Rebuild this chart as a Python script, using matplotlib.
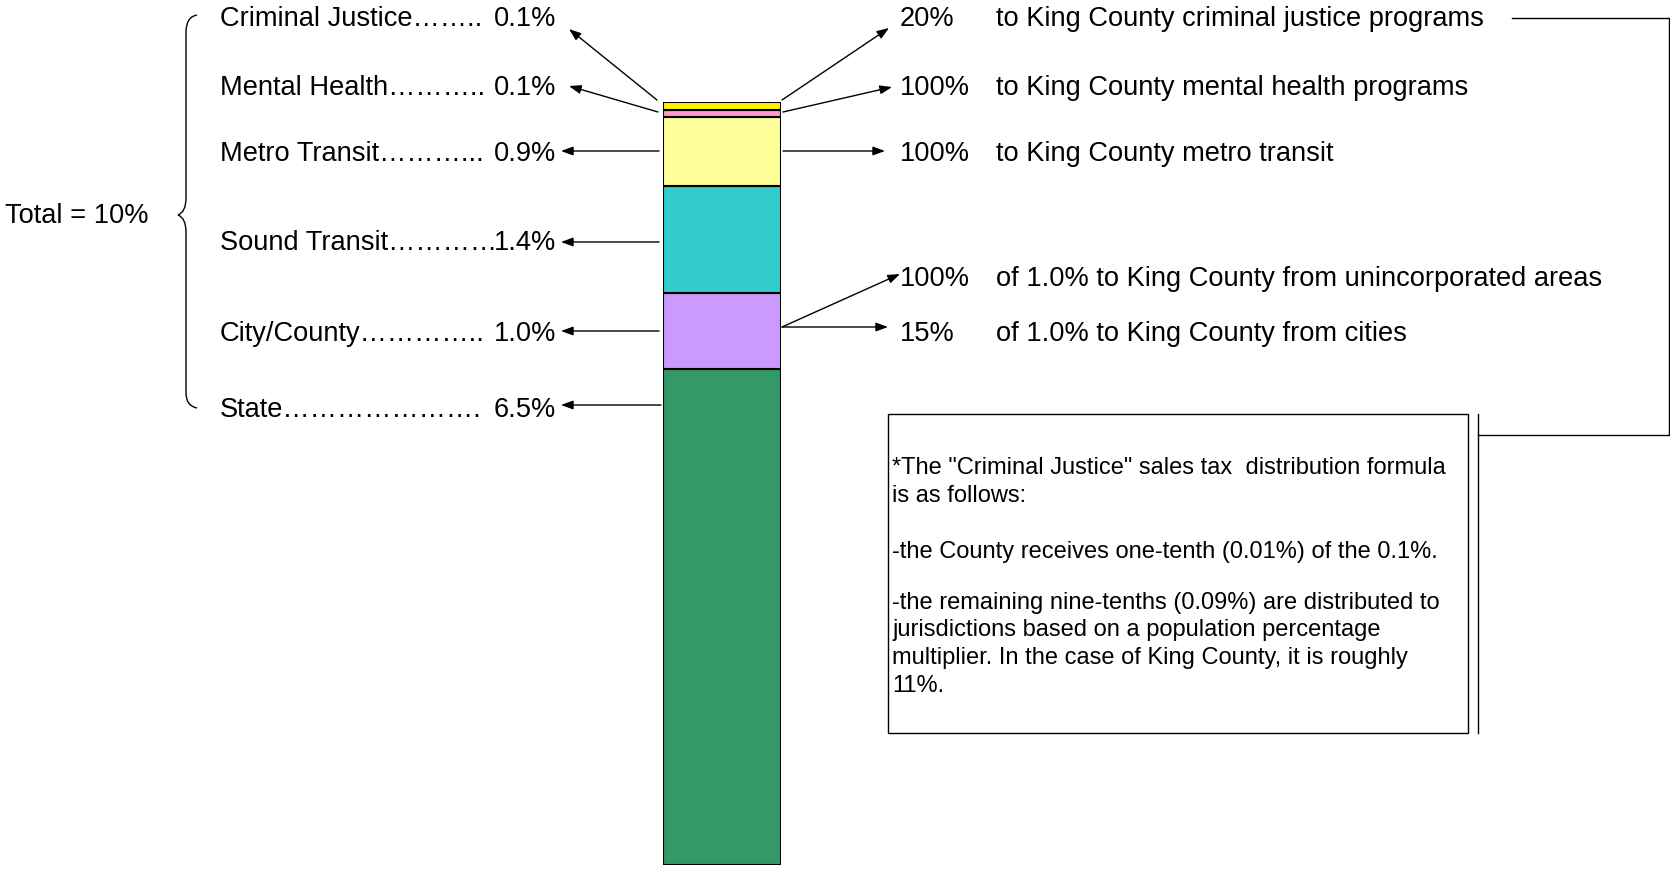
import matplotlib
matplotlib.use("Agg")
import matplotlib.pyplot as plt
from matplotlib.path import Path
from matplotlib.patches import PathPatch, Rectangle

plt.rcParams['font.family'] = ['Liberation Sans', 'DejaVu Sans']

# sales tax shares, bottom to top of the bar (percent)
parts = ['State', 'City/County', 'Sound Transit', 'Metro Transit', 'Mental Health', 'Criminal Justice']
shares = [6.5, 1.0, 1.4, 0.9, 0.1, 0.1]
colors = ['#339966', '#CC99FF', '#33CCCC', '#FFFF99', '#FF99CC', '#FFF200']

left_names = ['Criminal Justice……..',
              'Mental Health………..',
              'Metro Transit………...',
              'Sound Transit…………',
              'City/County' + '…' * 4 + '..',
              'State' + '…' * 7 + '.']
left_pcts = ['0.1%', '0.1%', '0.9%', '1.4%', '1.0%', '6.5%']
right_pcts = ['20%', '100%', '100%', '100%', '15%']
right_texts = ['to King County criminal justice programs',
               'to King County mental health programs',
               'to King County metro transit',
               'of 1.0% to King County from unincorporated areas',
               'of 1.0% to King County from cities']
note_lines = ['*The "Criminal Justice" sales tax  distribution formula',
              'is as follows:',
              '-the County receives one-tenth (0.01%) of the 0.1%.',
              '-the remaining nine-tenths (0.09%) are distributed to',
              'jurisdictions based on a population percentage',
              'multiplier. In the case of King County, it is roughly',
              '11%.']

W, H = 1670, 869
fig = plt.figure(figsize=(W / 100, H / 100), dpi=100)

# overlay axes in pixel units for the annotations
ax = fig.add_axes([0, 0, 1, 1])
ax.set_xlim(0, W)
ax.set_ylim(H, 0)
ax.axis('off')

# the stacked bar
bax = fig.add_axes([663 / W, 4 / H, 118 / W, 763 / H])
bottom = 0
for s, c in zip(shares, colors):
    bax.bar(0, s, bottom=bottom, width=1, color=c, edgecolor='black', linewidth=1.5)
    bottom += s
bax.set_xlim(-0.5, 0.5)
bax.set_ylim(0, sum(shares))
bax.axis('off')

fs = 19.6
left_y = [19, 88, 154, 243, 334, 410]
for n, p, y in zip(left_names, left_pcts, left_y):
    ax.text(220, y, n, fontsize=fs, va='center', ha='left')
    ax.text(556, y, p, fontsize=fs, va='center', ha='right')

ax.text(5, 216, 'Total = 10%', fontsize=fs, va='center', ha='left')

right_y = [19, 88, 154, 279, 334]
for p, t, y in zip(right_pcts, right_texts, right_y):
    ax.text(900, y, p, fontsize=fs, va='center', ha='left')
    ax.text(996, y, t, fontsize=fs, va='center', ha='left')

aprops = dict(arrowstyle='-|>,head_length=0.6,head_width=0.22', mutation_scale=12,
              color='black', lw=1.0, shrinkA=0, shrinkB=0)
arrows = [((657, 100), (569, 29)), ((658, 112), (569, 86)), ((659, 151), (561, 151)),
          ((659, 242), (561, 242)), ((659, 331), (561, 331)), ((661, 405), (561, 405)),
          ((782, 100), (889, 28)), ((783, 112), (892, 87)), ((783, 151), (885, 151)),
          ((782, 327), (900, 274)), ((782, 327), (888, 327))]
for a, b in arrows:
    ax.annotate('', xy=b, xytext=a, arrowprops=aprops)

# curly brace
verts = [(197, 15), (186, 17), (186, 32), (186, 45),
         (186, 198), (186, 212), (178, 215),
         (186, 218), (186, 232),
         (186, 393), (186, 406), (197, 408)]
codes = [Path.MOVETO, Path.CURVE3, Path.CURVE3, Path.LINETO,
         Path.LINETO, Path.CURVE3, Path.CURVE3,
         Path.CURVE3, Path.CURVE3,
         Path.LINETO, Path.CURVE3, Path.CURVE3]
ax.add_patch(PathPatch(Path(verts, codes), fill=False, lw=1.0, color='black'))

# bracket from the criminal justice line to the note
ax.plot([1512, 1669, 1669, 1478], [18, 18, 435, 435], color='black', lw=1.0)
ax.plot([1478, 1478], [414, 733], color='black', lw=1.0)

# note box
ax.add_patch(Rectangle((888, 414), 580, 319, fill=False, lw=1.0, edgecolor='black'))
note_y = [468, 496, 552, 603, 630, 658, 686]
for t, y in zip(note_lines, note_y):
    ax.text(892, y, t, fontsize=17, va='center', ha='left')

fig.savefig('out.png', dpi=100)
